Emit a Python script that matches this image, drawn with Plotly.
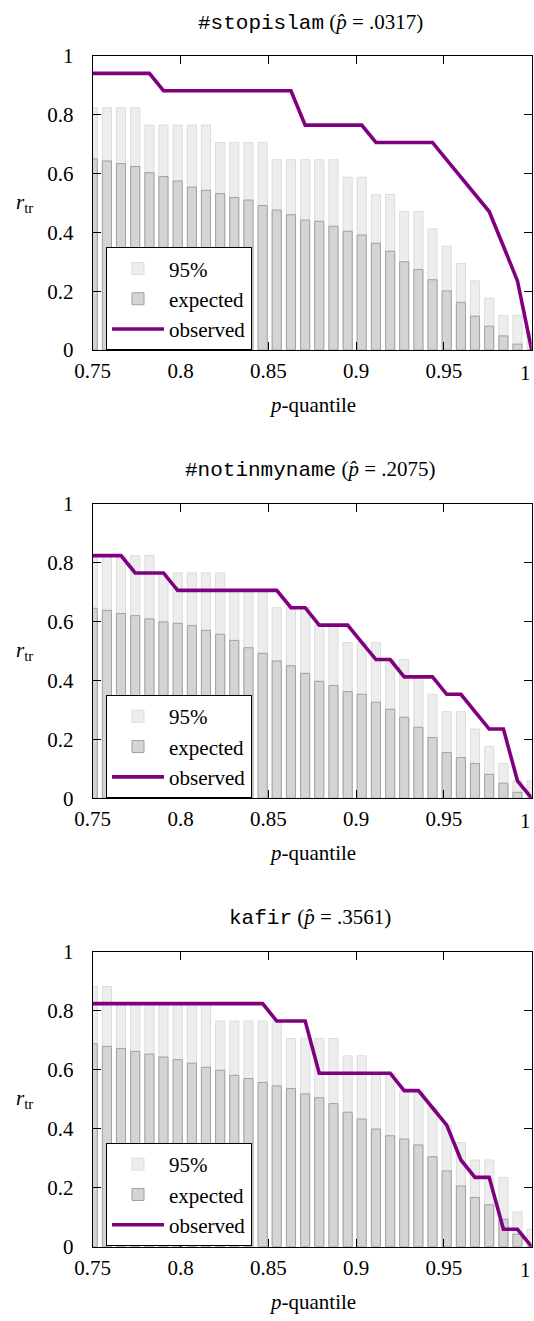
import plotly.graph_objects as go

# p-quantile categories (bar / line positions)
quantiles = [0.75, 0.7581, 0.7661, 0.7742, 0.7823, 0.7903, 0.7984, 0.8065,
             0.8145, 0.8226, 0.8306, 0.8387, 0.8468, 0.8548, 0.8629, 0.8710,
             0.8790, 0.8871, 0.8952, 0.9032, 0.9113, 0.9194, 0.9274, 0.9355,
             0.9435, 0.9516, 0.9597, 0.9677, 0.9758, 0.9839, 0.9919, 1.0]

# Panel 1: #stopislam
ci95_stopislam = [0.824, 0.824, 0.824, 0.824, 0.765, 0.765, 0.765, 0.765,
                  0.765, 0.706, 0.706, 0.706, 0.706, 0.647, 0.647, 0.647,
                  0.647, 0.647, 0.588, 0.588, 0.529, 0.529, 0.471, 0.471,
                  0.412, 0.353, 0.294, 0.235, 0.176, 0.118, 0.118, 0.059]
expected_stopislam = [0.650, 0.643, 0.634, 0.624, 0.603, 0.590, 0.575, 0.554,
                      0.543, 0.532, 0.519, 0.510, 0.491, 0.476, 0.460, 0.442,
                      0.438, 0.421, 0.404, 0.391, 0.363, 0.336, 0.300, 0.274,
                      0.239, 0.201, 0.162, 0.115, 0.081, 0.048, 0.020, 0.0]
observed_stopislam = [0.941, 0.941, 0.941, 0.941, 0.941, 0.882, 0.882, 0.882,
                      0.882, 0.882, 0.882, 0.882, 0.882, 0.882, 0.882, 0.765,
                      0.765, 0.765, 0.765, 0.765, 0.706, 0.706, 0.706, 0.706,
                      0.706, 0.647, 0.588, 0.529, 0.471, 0.353, 0.235, 0.0]

# Panel 2: #notinmyname
ci95_notinmyname = [0.824, 0.824, 0.824, 0.824, 0.824, 0.765, 0.765, 0.765,
                    0.765, 0.765, 0.706, 0.706, 0.706, 0.647, 0.647, 0.647,
                    0.588, 0.588, 0.529, 0.529, 0.529, 0.471, 0.471, 0.412,
                    0.353, 0.294, 0.294, 0.235, 0.176, 0.118, 0.059, 0.059]
expected_notinmyname = [0.645, 0.638, 0.627, 0.620, 0.609, 0.599, 0.594, 0.586,
                        0.570, 0.557, 0.536, 0.511, 0.492, 0.466, 0.450, 0.424,
                        0.397, 0.383, 0.362, 0.353, 0.326, 0.302, 0.275, 0.241,
                        0.206, 0.155, 0.138, 0.118, 0.081, 0.051, 0.020, 0.0]
observed_notinmyname = [0.824, 0.824, 0.824, 0.765, 0.765, 0.765, 0.706, 0.706,
                        0.706, 0.706, 0.706, 0.706, 0.706, 0.706, 0.647, 0.647,
                        0.588, 0.588, 0.588, 0.529, 0.471, 0.471, 0.412, 0.412,
                        0.412, 0.353, 0.353, 0.294, 0.235, 0.235, 0.059, 0.0]

# Panel 3: kafir
ci95_kafir = [0.882, 0.882, 0.824, 0.824, 0.824, 0.824, 0.824, 0.824,
              0.824, 0.765, 0.765, 0.765, 0.765, 0.765, 0.706, 0.706,
              0.706, 0.706, 0.647, 0.647, 0.588, 0.588, 0.529, 0.529,
              0.471, 0.412, 0.353, 0.294, 0.294, 0.235, 0.118, 0.059]
expected_kafir = [0.688, 0.679, 0.672, 0.662, 0.653, 0.643, 0.634, 0.622,
                  0.608, 0.598, 0.581, 0.570, 0.557, 0.545, 0.536, 0.518,
                  0.505, 0.485, 0.456, 0.433, 0.399, 0.376, 0.365, 0.345,
                  0.305, 0.257, 0.206, 0.167, 0.142, 0.093, 0.042, 0.0]
observed_kafir = [0.824, 0.824, 0.824, 0.824, 0.824, 0.824, 0.824, 0.824,
                  0.824, 0.824, 0.824, 0.824, 0.824, 0.765, 0.765, 0.765,
                  0.588, 0.588, 0.588, 0.588, 0.588, 0.588, 0.529, 0.529,
                  0.471, 0.412, 0.294, 0.235, 0.235, 0.059, 0.059, 0.0]

panel_names = ["#stopislam", "#notinmyname", "kafir"]
panel_phat = [".0317", ".2075", ".3561"]
ci95_sets = [ci95_stopislam, ci95_notinmyname, ci95_kafir]
expected_sets = [expected_stopislam, expected_notinmyname, expected_kafir]
observed_sets = [observed_stopislam, observed_notinmyname, observed_kafir]

x_tickvals = [0.75, 0.8, 0.85, 0.9, 0.95]
x_ticktext = ["0.75", "0.8", "0.85", "0.9", "0.95"]
x_last_label = "1"   # tick at 1 coincides with the frame; its label is placed at the edge
y_tickvals = [0, 0.2, 0.4, 0.6, 0.8, 1.0]
y_ticktext = ["0", "0.2", "0.4", "0.6", "0.8", "1"]

W, H = 534, 1321
SERIF = "Liberation Serif, Times New Roman, serif"
MONO = "Liberation Mono, Courier New, monospace"
FS = 21

# pixel geometry of each panel (top, bottom) and x extent
x_left, x_right = 92.7, 531.7
panel_px = [(56.0, 350.0), (503.8, 798.2), (951.7, 1246.7)]

fig = go.Figure()
layout = dict(
    width=W, height=H,
    margin=dict(l=0, r=0, t=0, b=0, autoexpand=False),
    paper_bgcolor="white", plot_bgcolor="white",
    barmode="overlay",
    font=dict(family=SERIF, size=FS, color="black"),
    annotations=[],
)

for i in range(3):
    sfx = "" if i == 0 else str(i + 1)
    xa, ya = "x" + sfx, "y" + sfx
    leg = "legend" + sfx
    fig.add_trace(go.Bar(
        x=quantiles, y=ci95_sets[i], width=0.0052, name="95%",
        marker=dict(color="rgb(237,237,237)", line=dict(color="rgb(220,220,220)", width=1)),
        xaxis=xa, yaxis=ya, legend=leg, showlegend=True))
    fig.add_trace(go.Bar(
        x=quantiles, y=expected_sets[i], width=0.0052, name="expected",
        marker=dict(color="rgb(212,212,212)", line=dict(color="rgb(160,160,160)", width=1)),
        xaxis=xa, yaxis=ya, legend=leg, showlegend=True))
    fig.add_trace(go.Scatter(
        x=quantiles, y=observed_sets[i], mode="lines", name="observed",
        line=dict(color="#800080", width=3.6),
        xaxis=xa, yaxis=ya, legend=leg, showlegend=True))

    top, bot = panel_px[i]
    ydom = [1 - bot / H, 1 - top / H]
    xdom = [x_left / W, x_right / W]
    axis_common = dict(showline=True, linecolor="black", linewidth=1, mirror="allticks",
                       ticks="inside", ticklen=8, tickwidth=1, tickcolor="black",
                       showgrid=False, zeroline=False, fixedrange=True,
                       tickfont=dict(family=SERIF, size=FS, color="black"))
    layout["xaxis" + sfx] = dict(domain=xdom, range=[0.75, 1.0], anchor=ya,
                                 tickvals=x_tickvals, ticktext=x_ticktext,
                                 ticklabelstandoff=2, **axis_common)
    layout["yaxis" + sfx] = dict(domain=ydom, range=[0, 1.0], anchor=xa,
                                 tickvals=y_tickvals, ticktext=y_ticktext,
                                 ticklabelstandoff=14, **axis_common)
    layout[leg] = dict(x=106 / W, y=1 - (top + 191.3) / H, xanchor="left", yanchor="top",
                       bgcolor="white", bordercolor="black", borderwidth=1,
                       font=dict(family=SERIF, size=FS, color="black"),
                       itemwidth=52, traceorder="normal")

    # last x tick label, kept inside the page edge
    layout["annotations"].append(dict(
        text=x_last_label, x=533 / W, y=1 - (bot + 23) / H, xref="paper", yref="paper",
        xanchor="right", yanchor="middle", showarrow=False,
        font=dict(family=SERIF, size=FS, color="black")))
    # panel title
    title = ('<span style="font-family:%s">%s</span> (<i>p̂</i> = %s)'
             % (MONO, panel_names[i], panel_phat[i]))
    layout["annotations"].append(dict(
        text=title, x=310 / W, y=1 - (top - 34) / H, xref="paper", yref="paper",
        xanchor="center", yanchor="middle", showarrow=False,
        font=dict(family=SERIF, size=FS, color="black")))
    # x-axis title
    layout["annotations"].append(dict(
        text="<i>p</i>-quantile", x=312 / W, y=1 - (bot + 55) / H, xref="paper", yref="paper",
        xanchor="center", yanchor="middle", showarrow=False,
        font=dict(family=SERIF, size=FS, color="black")))
    # y-axis title
    layout["annotations"].append(dict(
        text="<i>r</i><sub>tr</sub>", x=24 / W, y=1 - ((top + bot) / 2) / H,
        xref="paper", yref="paper", xanchor="center", yanchor="middle", showarrow=False,
        font=dict(family=SERIF, size=FS, color="black")))

fig.update_layout(**layout)
fig.write_html("out.html")
